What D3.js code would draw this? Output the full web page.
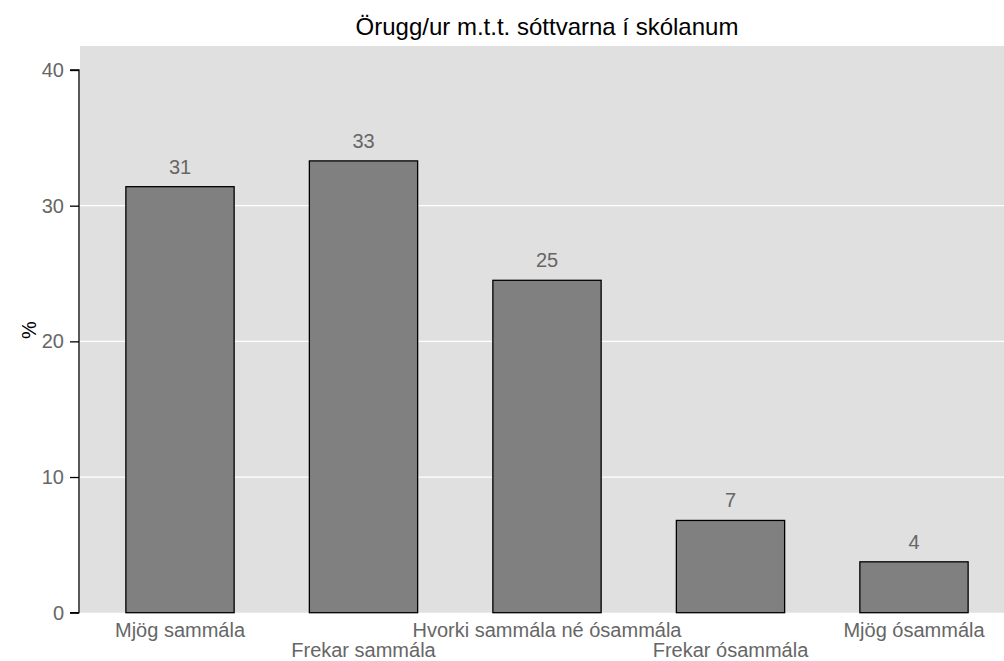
<!DOCTYPE html>
<html>
<head>
<meta charset="utf-8">
<script src="https://cdn.jsdelivr.net/npm/d3@7"></script>
<style>
  body { margin: 0; background: #fff; }
  text { font-family: "Liberation Sans", Arial, sans-serif; }
</style>
</head>
<body>
<script>
var categories = ["Mjög sammála", "Frekar sammála", "Hvorki sammála né ósammála", "Frekar ósammála", "Mjög ósammála"]
var values = [31.4, 33.3, 24.5, 6.8, 3.75]
var labels = ["31", "33", "25", "7", "4"]
var yTicks = [0, 10, 20, 30, 40]
var title = "Örugg/ur m.t.t. sóttvarna í skólanum"

var width = 1004, height = 661
var margin = {top: 46, left: 80}

var svg = d3.select("body").append("svg")
    .attr("width", width)
    .attr("height", height)

var x = d3.scaleBand()
    .domain(categories)
    .range([80, 1014])
    .paddingInner(0.41)
    .paddingOuter(0.25)

var y = d3.scaleLinear()
    .domain([0, 40])
    .range([612.7, 70])

// grey panel
svg.append("rect")
    .attr("x", 80)
    .attr("y", margin.top)
    .attr("width", 1014 - 80)
    .attr("height", y(0) - margin.top)
    .attr("fill", "#e0e0e0")

// white grid lines
svg.selectAll(".grid")
    .data(yTicks.filter(function(d){ return d > 0 && d < 40 }))
    .enter().append("line")
    .attr("x1", 80)
    .attr("x2", 1014)
    .attr("y1", function(d){ return y(d) })
    .attr("y2", function(d){ return y(d) })
    .attr("stroke", "#fff")
    .attr("stroke-width", 1.2)

// bars
svg.selectAll(".bar")
    .data(values)
    .enter().append("rect")
    .attr("x", function(d, i){ return x(categories[i]) })
    .attr("y", function(d){ return y(d) })
    .attr("width", x.bandwidth())
    .attr("height", function(d){ return y(0) - y(d) })
    .attr("fill", "#808080")
    .attr("stroke", "#000")
    .attr("stroke-width", 1.3)

// value labels
svg.selectAll(".val")
    .data(values)
    .enter().append("text")
    .attr("x", function(d, i){ return x(categories[i]) + x.bandwidth()/2 })
    .attr("y", function(d){ return y(d) - 13 })
    .attr("text-anchor", "middle")
    .attr("font-size", 20)
    .attr("fill", "#666")
    .text(function(d, i){ return labels[i] })

// y axis
var yAxis = d3.axisLeft(y).tickValues(yTicks).tickSize(9).tickPadding(6)
var gy = svg.append("g")
    .attr("transform", "translate(79,0)")
    .call(yAxis)
gy.select(".domain").attr("stroke", "#000").attr("stroke-width", 1.3)
    .attr("d", "M-9," + y(40) + "H0V" + y(0) + "H-9")
gy.selectAll(".tick line").attr("stroke", "#000").attr("stroke-width", 1.3)
gy.selectAll(".tick text")
    .attr("font-size", 20)
    .attr("fill", "#666")
    .attr("font-family", "Liberation Sans, Arial, sans-serif")

// x labels, alternating rows
svg.selectAll(".xlab")
    .data(categories)
    .enter().append("text")
    .attr("x", function(d){ return x(d) + x.bandwidth()/2 })
    .attr("y", function(d, i){ return i % 2 == 0 ? 637 : 657 })
    .attr("text-anchor", "middle")
    .attr("font-size", 20)
    .attr("fill", "#666")
    .text(function(d){ return d })

// y title
svg.append("text")
    .attr("transform", "translate(36,330) rotate(-90)")
    .attr("text-anchor", "middle")
    .attr("font-size", 20)
    .attr("fill", "#000")
    .text("%")

// title
svg.append("text")
    .attr("x", 547)
    .attr("y", 35)
    .attr("text-anchor", "middle")
    .attr("font-size", 24)
    .attr("fill", "#000")
    .text(title)
</script>
</body>
</html>
